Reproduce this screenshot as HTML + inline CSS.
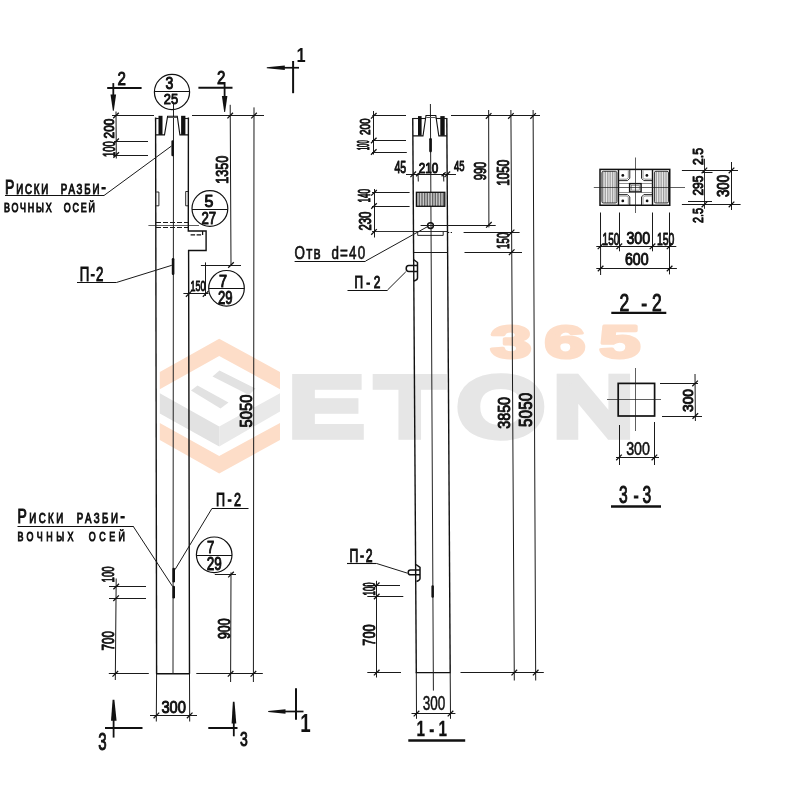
<!DOCTYPE html>
<html lang="ru"><head><meta charset="utf-8"><title>Колонна — чертёж</title>
<style>html,body{margin:0;padding:0;background:#fff;}body{width:800px;height:800px;overflow:hidden;}svg{display:block;font-family:"Liberation Sans", "DejaVu Sans", sans-serif;will-change:transform;}</style></head><body>
<svg width="800" height="800" viewBox="0 0 800 800">
<defs><pattern id="hatch" width="1.6" height="4" patternUnits="userSpaceOnUse"><rect width="1.6" height="4" fill="#d8d8d8"/><rect width="0.8" height="4" fill="#555"/></pattern><pattern id="hatch2" width="1.7" height="4" patternUnits="userSpaceOnUse"><rect width="1.7" height="4" fill="#ececec"/><rect width="0.6" height="4" fill="#777"/></pattern></defs>
<rect width="800" height="800" fill="#fff"/>
<polygon points="219.2,338.7 280,372 280,389.2 219.2,356 159.8,389.2 159.8,372" fill="#fdddc8"/>
<polygon points="159.8,423 219.2,456 280,423 280,440 219.2,473.4 159.8,440" fill="#fdddc8"/>
<polygon points="159.8,393.2 219.2,426.5 219.2,446.5 159.8,413.5" fill="#e2e2e2"/>
<polygon points="219.2,426.5 280,393.2 280,411.5 219.2,446.5" fill="#e9e9e9"/>
<polygon points="219.5,370.5 255.5,388.5 249,395 212.5,376.5" fill="#e2e2e2"/>
<polygon points="197.5,385.5 228.5,402.5 220.5,408.5 191,390.5" fill="#e2e2e2"/>
<text transform="translate(0 435.2) scale(1.33 1)" x="217.59 283.01 344.66 416.54" y="0" font-size="82" fill="#e6e6e6" stroke="#e6e6e6" stroke-width="11" vector-effect="non-scaling-stroke" stroke-linejoin="miter" stroke-miterlimit="1.5">ETON</text>
<text transform="translate(0 357.7) scale(1.62 1)" x="302.84 336.17 369.88" y="0" font-size="45.5" font-weight="bold" fill="#fdddc8" stroke="#fdddc8" stroke-width="3" stroke-linejoin="round">365</text>
<line x1="155.60" y1="117.50" x2="156.60" y2="673.80" stroke="#111" stroke-width="1.4" />
<polyline points="188.40,117.50 188.30,231.00 206.10,231.00 206.10,250.50 188.60,250.50 189.50,673.80" fill="none" stroke="#111" stroke-width="1.4" stroke-linejoin="miter" />
<line x1="156.00" y1="673.80" x2="190.00" y2="673.80" stroke="#111" stroke-width="1.4" />
<line x1="173.50" y1="103.00" x2="173.00" y2="674.00" stroke="#222" stroke-width="1.0" />
<line x1="155.60" y1="118.50" x2="158.80" y2="118.50" stroke="#1a1a1a" stroke-width="1.1" />
<line x1="185.00" y1="118.50" x2="188.60" y2="118.50" stroke="#1a1a1a" stroke-width="1.1" />
<polyline points="155.80,134.90 164.50,134.90 167.60,116.30 177.30,116.30 179.90,134.90 188.20,134.90" fill="none" stroke="#111" stroke-width="1.1" stroke-linejoin="miter" />
<line x1="168.00" y1="117.50" x2="177.00" y2="117.50" stroke="#555" stroke-width="1.0" />
<rect x="158.50" y="115.80" width="4.00" height="19.10" rx="0" fill="#111" stroke="none" stroke-width="0"/>
<rect x="181.10" y="115.80" width="4.30" height="19.10" rx="0" fill="#111" stroke="none" stroke-width="0"/>
<rect x="171.40" y="140.20" width="2.50" height="16.00" rx="1.2" fill="#111" stroke="none" stroke-width="0"/>
<rect x="171.80" y="258.10" width="2.60" height="16.90" rx="1.2" fill="#111" stroke="none" stroke-width="0"/>
<rect x="172.40" y="567.80" width="2.60" height="14.60" rx="1.2" fill="#111" stroke="none" stroke-width="0"/>
<rect x="172.40" y="585.80" width="2.60" height="12.70" rx="1.2" fill="#111" stroke="none" stroke-width="0"/>
<polyline points="156.20,192.00 158.90,192.00 158.90,205.80 156.20,205.80" fill="none" stroke="#111" stroke-width="0.9" stroke-linejoin="miter" />
<polyline points="188.30,191.50 185.70,191.50 185.70,205.80 188.30,205.80" fill="none" stroke="#111" stroke-width="0.9" stroke-linejoin="miter" />
<line x1="156.00" y1="222.50" x2="188.30" y2="222.50" stroke="#1a1a1a" stroke-width="1.0" stroke-dasharray="5 2"/>
<line x1="156.00" y1="227.50" x2="188.30" y2="227.50" stroke="#1a1a1a" stroke-width="1.0" stroke-dasharray="5 2"/>
<line x1="148.40" y1="225.50" x2="199.00" y2="225.50" stroke="#1a1a1a" stroke-width="0.7" />
<polyline points="190.60,234.90 202.60,234.90 202.60,231.00" fill="none" stroke="#111" stroke-width="1.25" stroke-linejoin="miter" stroke-dasharray="4.5 1.5"/>
<line x1="112.00" y1="115.50" x2="154.00" y2="115.50" stroke="#1a1a1a" stroke-width="1.0" />
<line x1="192.00" y1="115.50" x2="264.00" y2="115.50" stroke="#1a1a1a" stroke-width="1.0" />
<line x1="116.00" y1="111.50" x2="116.30" y2="158.50" stroke="#1a1a1a" stroke-width="1.0" />
<line x1="114.00" y1="141.50" x2="148.00" y2="141.50" stroke="#1a1a1a" stroke-width="1.0" />
<line x1="114.00" y1="155.50" x2="148.00" y2="155.50" stroke="#1a1a1a" stroke-width="1.0" />
<line x1="113.20" y1="118.30" x2="118.80" y2="112.70" stroke="#111" stroke-width="1.25" />
<line x1="113.30" y1="144.10" x2="118.90" y2="138.50" stroke="#111" stroke-width="1.25" />
<line x1="113.40" y1="157.80" x2="119.00" y2="152.20" stroke="#111" stroke-width="1.25" />
<text x="113.50" y="138.50" font-size="13.97" font-weight="normal" fill="#111" textLength="20.00" lengthAdjust="spacingAndGlyphs" transform="rotate(-90 113.50 138.50)"  stroke="#111" stroke-width="1.0" stroke-linejoin="round">200</text>
<text x="115.20" y="157.00" font-size="15.64" font-weight="normal" fill="#111" textLength="15.60" lengthAdjust="spacingAndGlyphs" transform="rotate(-90 115.20 157.00)"  stroke="#111" stroke-width="1.0" stroke-linejoin="round">100</text>
<line x1="230.20" y1="104.80" x2="231.00" y2="265.00" stroke="#1a1a1a" stroke-width="1.0" />
<line x1="254.00" y1="107.40" x2="253.40" y2="682.00" stroke="#1a1a1a" stroke-width="1.0" />
<line x1="227.40" y1="118.40" x2="233.00" y2="112.80" stroke="#111" stroke-width="1.25" />
<line x1="251.20" y1="118.40" x2="256.80" y2="112.80" stroke="#111" stroke-width="1.25" />
<line x1="200.90" y1="265.50" x2="241.00" y2="265.50" stroke="#1a1a1a" stroke-width="1.0" />
<line x1="228.20" y1="267.80" x2="233.80" y2="262.20" stroke="#111" stroke-width="1.25" />
<text x="228.00" y="183.80" font-size="17.04" font-weight="normal" fill="#111" textLength="28.00" lengthAdjust="spacingAndGlyphs" transform="rotate(-90 228.00 183.80)"  stroke="#111" stroke-width="1.0" stroke-linejoin="round">1350</text>
<line x1="205.50" y1="262.40" x2="205.50" y2="296.00" stroke="#1a1a1a" stroke-width="1.0" />
<line x1="183.40" y1="293.50" x2="208.50" y2="293.50" stroke="#1a1a1a" stroke-width="1.0" />
<line x1="185.90" y1="296.70" x2="191.50" y2="291.10" stroke="#111" stroke-width="1.25" />
<line x1="202.80" y1="296.70" x2="208.40" y2="291.10" stroke="#111" stroke-width="1.25" />
<text x="190.40" y="291.30" font-size="15.08" font-weight="normal" fill="#111" textLength="15.00" lengthAdjust="spacingAndGlyphs"  stroke="#111" stroke-width="1.0" stroke-linejoin="round">150</text>
<text x="252.00" y="427.60" font-size="17.32" font-weight="normal" fill="#111" textLength="33.00" lengthAdjust="spacingAndGlyphs" transform="rotate(-90 252.00 427.60)"  stroke="#111" stroke-width="1.0" stroke-linejoin="round">5050</text>
<line x1="231.00" y1="572.40" x2="230.60" y2="682.00" stroke="#1a1a1a" stroke-width="1.0" />
<line x1="214.80" y1="574.50" x2="236.00" y2="574.50" stroke="#1a1a1a" stroke-width="1.0" />
<line x1="228.20" y1="577.40" x2="233.80" y2="571.80" stroke="#111" stroke-width="1.25" />
<text x="229.80" y="639.00" font-size="17.32" font-weight="normal" fill="#111" textLength="20.60" lengthAdjust="spacingAndGlyphs" transform="rotate(-90 229.80 639.00)"  stroke="#111" stroke-width="1.0" stroke-linejoin="round">900</text>
<line x1="116.20" y1="578.50" x2="115.30" y2="680.00" stroke="#1a1a1a" stroke-width="1.0" />
<line x1="109.00" y1="586.50" x2="146.00" y2="586.50" stroke="#1a1a1a" stroke-width="1.0" />
<line x1="109.00" y1="598.50" x2="146.00" y2="598.50" stroke="#1a1a1a" stroke-width="1.0" />
<line x1="113.40" y1="589.30" x2="119.00" y2="583.70" stroke="#111" stroke-width="1.25" />
<line x1="113.30" y1="601.00" x2="118.90" y2="595.40" stroke="#111" stroke-width="1.25" />
<text x="113.80" y="582.40" font-size="16.76" font-weight="normal" fill="#111" textLength="16.00" lengthAdjust="spacingAndGlyphs" transform="rotate(-90 113.80 582.40)"  stroke="#111" stroke-width="1.0" stroke-linejoin="round">100</text>
<text x="114.40" y="650.40" font-size="17.04" font-weight="normal" fill="#111" textLength="19.40" lengthAdjust="spacingAndGlyphs" transform="rotate(-90 114.40 650.40)"  stroke="#111" stroke-width="1.0" stroke-linejoin="round">700</text>
<line x1="108.80" y1="673.50" x2="148.80" y2="673.50" stroke="#1a1a1a" stroke-width="1.0" />
<line x1="196.30" y1="673.50" x2="262.80" y2="673.50" stroke="#1a1a1a" stroke-width="1.0" />
<line x1="112.50" y1="676.60" x2="118.10" y2="671.00" stroke="#111" stroke-width="1.25" />
<line x1="227.80" y1="676.60" x2="233.40" y2="671.00" stroke="#111" stroke-width="1.25" />
<line x1="250.60" y1="676.60" x2="256.20" y2="671.00" stroke="#111" stroke-width="1.25" />
<line x1="156.60" y1="674.00" x2="156.30" y2="721.50" stroke="#1a1a1a" stroke-width="1.0" />
<line x1="189.50" y1="674.00" x2="189.70" y2="721.50" stroke="#1a1a1a" stroke-width="1.0" />
<line x1="150.00" y1="715.50" x2="197.00" y2="715.50" stroke="#1a1a1a" stroke-width="1.0" />
<line x1="153.60" y1="718.20" x2="159.20" y2="712.60" stroke="#111" stroke-width="1.25" />
<line x1="186.90" y1="718.20" x2="192.50" y2="712.60" stroke="#111" stroke-width="1.25" />
<text x="161.40" y="712.60" font-size="17.32" font-weight="normal" fill="#111" textLength="24.60" lengthAdjust="spacingAndGlyphs"  stroke="#111" stroke-width="1.0" stroke-linejoin="round">300</text>
<circle cx="172.00" cy="92.00" r="17.60" fill="none" stroke="#111" stroke-width="1.2"/>
<line x1="154.40" y1="91.50" x2="189.60" y2="91.50" stroke="#111" stroke-width="1.0" />
<text x="165.50" y="89.00" font-size="15.92" font-weight="normal" fill="#111" textLength="7.80" lengthAdjust="spacingAndGlyphs"  stroke="#111" stroke-width="1.0" stroke-linejoin="round">3</text>
<text x="163.80" y="104.40" font-size="15.08" font-weight="normal" fill="#111" textLength="14.30" lengthAdjust="spacingAndGlyphs"  stroke="#111" stroke-width="1.0" stroke-linejoin="round">25</text>
<circle cx="209.90" cy="208.50" r="17.90" fill="none" stroke="#111" stroke-width="1.2"/>
<line x1="192.00" y1="209.50" x2="227.80" y2="209.50" stroke="#111" stroke-width="1.0" />
<text x="204.50" y="207.00" font-size="16.48" font-weight="normal" fill="#111" textLength="8.90" lengthAdjust="spacingAndGlyphs"  stroke="#111" stroke-width="1.0" stroke-linejoin="round">5</text>
<text x="201.40" y="223.60" font-size="16.48" font-weight="normal" fill="#111" textLength="14.70" lengthAdjust="spacingAndGlyphs"  stroke="#111" stroke-width="1.0" stroke-linejoin="round">27</text>
<circle cx="226.50" cy="288.30" r="17.80" fill="none" stroke="#111" stroke-width="1.2"/>
<line x1="208.70" y1="288.50" x2="244.30" y2="288.50" stroke="#111" stroke-width="1.0" />
<text x="219.00" y="286.60" font-size="16.90" font-weight="normal" fill="#111" textLength="8.10" lengthAdjust="spacingAndGlyphs"  stroke="#111" stroke-width="1.0" stroke-linejoin="round">7</text>
<text x="218.00" y="303.60" font-size="17.88" font-weight="normal" fill="#111" textLength="14.60" lengthAdjust="spacingAndGlyphs"  stroke="#111" stroke-width="1.0" stroke-linejoin="round">29</text>
<circle cx="214.20" cy="554.80" r="17.80" fill="none" stroke="#111" stroke-width="1.2"/>
<line x1="196.40" y1="555.50" x2="232.00" y2="555.50" stroke="#111" stroke-width="1.0" />
<text x="207.00" y="552.60" font-size="17.04" font-weight="normal" fill="#111" textLength="7.30" lengthAdjust="spacingAndGlyphs"  stroke="#111" stroke-width="1.0" stroke-linejoin="round">7</text>
<text x="206.80" y="569.60" font-size="17.46" font-weight="normal" fill="#111" textLength="15.00" lengthAdjust="spacingAndGlyphs"  stroke="#111" stroke-width="1.0" stroke-linejoin="round">29</text>
<line x1="107.20" y1="88.10" x2="141.60" y2="88.10" stroke="#111" stroke-width="2.0" />
<line x1="113.30" y1="83.10" x2="113.30" y2="100.00" stroke="#111" stroke-width="1.8" />
<polygon points="110.5,94.4 116.1,94.4 113.8,110.8 112.9,110.8" fill="#111"/>
<text x="117.40" y="84.60" font-size="19.27" font-weight="normal" fill="#111" textLength="8.40" lengthAdjust="spacingAndGlyphs"  stroke="#111" stroke-width="1.0" stroke-linejoin="round">2</text>
<line x1="198.40" y1="87.80" x2="232.50" y2="87.80" stroke="#111" stroke-width="2.0" />
<line x1="224.60" y1="82.00" x2="224.60" y2="100.00" stroke="#111" stroke-width="1.8" />
<polygon points="221.9,96 227.4,96 225.1,112 224.2,112" fill="#111"/>
<text x="216.90" y="84.00" font-size="19.13" font-weight="normal" fill="#111" textLength="8.40" lengthAdjust="spacingAndGlyphs"  stroke="#111" stroke-width="1.0" stroke-linejoin="round">2</text>
<line x1="280.00" y1="67.75" x2="299.00" y2="67.75" stroke="#111" stroke-width="1.7" />
<line x1="293.10" y1="61.00" x2="293.10" y2="93.20" stroke="#111" stroke-width="2.0" />
<polygon points="266.8,67.3 266.8,68.3 284.8,70.0 284.8,65.6" fill="#111"/>
<text transform="translate(296.6 61.7) scale(0.8 1)" font-size="20.5" font-weight="bold" fill="#111">1</text>
<line x1="281.00" y1="711.50" x2="303.50" y2="711.50" stroke="#111" stroke-width="1.7" />
<line x1="296.00" y1="688.30" x2="296.00" y2="719.80" stroke="#111" stroke-width="2.0" />
<polygon points="268.2,711.0 268.2,712.0 285.5,713.7 285.5,709.3" fill="#111"/>
<text transform="translate(300.2 731.7) scale(0.75 1)" font-size="25" font-weight="bold" fill="#111">1</text>
<line x1="105.00" y1="728.10" x2="142.50" y2="728.10" stroke="#111" stroke-width="2.0" />
<line x1="113.60" y1="712.00" x2="113.60" y2="737.60" stroke="#111" stroke-width="1.8" />
<polygon points="112.6,699.8 114.4,699.8 116.6,720.8 111.0,720.8" fill="#111"/>
<text x="98.20" y="749.50" font-size="23.04" font-weight="normal" fill="#111" textLength="8.40" lengthAdjust="spacingAndGlyphs"  stroke="#111" stroke-width="1.0" stroke-linejoin="round">3</text>
<line x1="208.30" y1="728.00" x2="237.50" y2="728.00" stroke="#111" stroke-width="2.0" />
<line x1="233.80" y1="712.00" x2="233.80" y2="736.30" stroke="#111" stroke-width="1.8" />
<polygon points="232.9,701.8 234.5,701.8 236.3,723.5 231.6,723.5" fill="#111"/>
<text x="240.00" y="746.00" font-size="19.55" font-weight="normal" fill="#111" textLength="7.80" lengthAdjust="spacingAndGlyphs"  stroke="#111" stroke-width="1.0" stroke-linejoin="round">3</text>
<text transform="translate(5.00 193.60) scale(0.7 1)" font-size="20.00" fill="#111" stroke="#111" stroke-width="1.0" textLength="144.29" lengthAdjust="spacing" style="font-variant:small-caps" word-spacing="7">Риски разби-</text>
<line x1="5.00" y1="195.50" x2="104.00" y2="195.50" stroke="#111" stroke-width="1.1" />
<line x1="104.00" y1="195.50" x2="171.50" y2="146.00" stroke="#1a1a1a" stroke-width="1.0" />
<text transform="translate(4.00 211.80) scale(0.7 1)" font-size="18.50" fill="#111" stroke="#111" stroke-width="1.0" textLength="130.00" lengthAdjust="spacing" style="font-variant:small-caps" word-spacing="7">вочных осей</text>
<text transform="translate(79.80 280.60) scale(0.68 1)" font-size="19.50" fill="#111" stroke="#111" stroke-width="1.0" textLength="34.71" lengthAdjust="spacing" >П-2</text>
<line x1="77.00" y1="282.50" x2="116.40" y2="282.50" stroke="#111" stroke-width="1.1" />
<line x1="116.40" y1="282.50" x2="171.80" y2="265.30" stroke="#1a1a1a" stroke-width="1.0" />
<text transform="translate(17.50 523.40) scale(0.7 1)" font-size="20.00" fill="#111" stroke="#111" stroke-width="1.0" textLength="153.57" lengthAdjust="spacing" style="font-variant:small-caps" word-spacing="7">Риски разби-</text>
<line x1="17.50" y1="526.50" x2="133.00" y2="526.50" stroke="#111" stroke-width="1.1" />
<line x1="133.00" y1="526.00" x2="172.60" y2="586.50" stroke="#1a1a1a" stroke-width="1.0" />
<text transform="translate(17.50 541.00) scale(0.7 1)" font-size="18.50" fill="#111" stroke="#111" stroke-width="1.0" textLength="153.57" lengthAdjust="spacing" style="font-variant:small-caps" word-spacing="7">вочных осей</text>
<text transform="translate(216.00 506.00) scale(0.68 1)" font-size="18.50" fill="#111" stroke="#111" stroke-width="1.0" textLength="36.76" lengthAdjust="spacing" >П-2</text>
<line x1="211.80" y1="508.50" x2="248.50" y2="508.50" stroke="#111" stroke-width="1.1" />
<line x1="211.80" y1="508.70" x2="175.00" y2="569.60" stroke="#1a1a1a" stroke-width="1.0" />
<line x1="412.75" y1="118.00" x2="416.30" y2="672.60" stroke="#111" stroke-width="1.4" />
<line x1="446.80" y1="118.00" x2="450.20" y2="672.60" stroke="#111" stroke-width="1.4" />
<line x1="415.60" y1="672.60" x2="450.80" y2="672.60" stroke="#111" stroke-width="1.4" />
<line x1="430.40" y1="104.00" x2="433.40" y2="690.60" stroke="#222" stroke-width="1.0" />
<line x1="412.75" y1="118.50" x2="426.00" y2="118.50" stroke="#1a1a1a" stroke-width="1.1" />
<line x1="435.80" y1="118.50" x2="447.00" y2="118.50" stroke="#1a1a1a" stroke-width="1.1" />
<line x1="426.40" y1="117.50" x2="435.60" y2="117.50" stroke="#555" stroke-width="1.0" />
<polyline points="413.00,135.90 423.00,135.90 426.00,115.50 435.80,115.50 438.80,135.90 446.80,135.90" fill="none" stroke="#111" stroke-width="1.1" stroke-linejoin="miter" />
<rect x="418.00" y="116.10" width="3.60" height="19.60" rx="0" fill="#111" stroke="none" stroke-width="0"/>
<rect x="440.30" y="116.10" width="4.40" height="19.60" rx="0" fill="#111" stroke="none" stroke-width="0"/>
<rect x="429.20" y="138.00" width="2.70" height="14.40" rx="1.3" fill="#111" stroke="none" stroke-width="0"/>
<line x1="406.00" y1="174.50" x2="456.00" y2="174.50" stroke="#1a1a1a" stroke-width="1.0" />
<line x1="418.00" y1="173.00" x2="418.30" y2="181.50" stroke="#1a1a1a" stroke-width="1.0" />
<line x1="443.50" y1="173.00" x2="443.80" y2="181.50" stroke="#1a1a1a" stroke-width="1.0" />
<line x1="410.40" y1="177.10" x2="416.00" y2="171.50" stroke="#111" stroke-width="1.25" />
<line x1="416.10" y1="176.30" x2="420.10" y2="172.30" stroke="#111" stroke-width="1.25" />
<line x1="441.60" y1="176.30" x2="445.60" y2="172.30" stroke="#111" stroke-width="1.25" />
<line x1="444.50" y1="177.10" x2="450.10" y2="171.50" stroke="#111" stroke-width="1.25" />
<text x="394.40" y="173.00" font-size="16.20" font-weight="normal" fill="#111" textLength="11.80" lengthAdjust="spacingAndGlyphs"  stroke="#111" stroke-width="1.0" stroke-linejoin="round">45</text>
<text x="418.80" y="172.50" font-size="14.39" font-weight="normal" fill="#111" textLength="19.50" lengthAdjust="spacingAndGlyphs"  stroke="#111" stroke-width="1.0" stroke-linejoin="round">210</text>
<text x="454.00" y="171.40" font-size="14.53" font-weight="normal" fill="#111" textLength="10.50" lengthAdjust="spacingAndGlyphs"  stroke="#111" stroke-width="1.0" stroke-linejoin="round">45</text>
<rect x="416.40" y="192.30" width="28.40" height="14.00" rx="0" fill="url(#hatch)" stroke="#111" stroke-width="1.3"/>
<circle cx="430.50" cy="225.60" r="2.90" fill="none" stroke="#111" stroke-width="1.5"/>
<line x1="420.60" y1="225.50" x2="495.70" y2="225.50" stroke="#1a1a1a" stroke-width="1.0" />
<line x1="372.00" y1="231.50" x2="447.20" y2="231.50" stroke="#1a1a1a" stroke-width="0.9" />
<polyline points="417.70,232.00 417.70,235.40 443.20,235.40 443.20,232.00" fill="none" stroke="#111" stroke-width="0.9" stroke-linejoin="miter" />
<line x1="447.20" y1="232.50" x2="452.00" y2="232.50" stroke="#1a1a1a" stroke-width="1.0" stroke-dasharray="2 1.5"/>
<line x1="413.60" y1="252.50" x2="447.70" y2="252.50" stroke="#1a1a1a" stroke-width="1.0" />
<path d="M413.5,259.5 L417.5,262.5 L417.5,278 Q417.5,280 414,281 M417.5,265.5 L408.8,265.5 Q406.2,265.5 406.2,268.5 Q406.2,271.5 408.8,271.5 L417.5,271.5" fill="none" stroke="#111" stroke-width="1.5" stroke-linejoin="round"/>
<path d="M416,564.5 L420,567.3 L420,578.5 Q420,580.3 416.5,581.5 M420,570 L410.6,570 Q408.2,570 408.2,572.4 Q408.2,574.8 410.6,574.8 L420,574.8" fill="none" stroke="#111" stroke-width="1.5" stroke-linejoin="round"/>
<rect x="431.40" y="585.20" width="2.50" height="12.50" rx="1.2" fill="#111" stroke="none" stroke-width="0"/>
<line x1="372.30" y1="115.50" x2="406.00" y2="115.50" stroke="#1a1a1a" stroke-width="1.0" />
<line x1="373.50" y1="111.00" x2="373.50" y2="154.50" stroke="#1a1a1a" stroke-width="1.0" />
<line x1="372.00" y1="140.50" x2="406.00" y2="140.50" stroke="#1a1a1a" stroke-width="1.0" />
<line x1="372.00" y1="152.50" x2="406.80" y2="152.50" stroke="#1a1a1a" stroke-width="1.0" />
<line x1="370.95" y1="118.60" x2="376.55" y2="113.00" stroke="#111" stroke-width="1.25" />
<line x1="370.95" y1="143.30" x2="376.55" y2="137.70" stroke="#111" stroke-width="1.25" />
<line x1="370.95" y1="154.80" x2="376.55" y2="149.20" stroke="#111" stroke-width="1.25" />
<text x="370.20" y="135.00" font-size="15.08" font-weight="normal" fill="#111" textLength="16.70" lengthAdjust="spacingAndGlyphs" transform="rotate(-90 370.20 135.00)"  stroke="#111" stroke-width="1.0" stroke-linejoin="round">200</text>
<text x="369.30" y="150.20" font-size="16.06" font-weight="normal" fill="#111" textLength="9.90" lengthAdjust="spacingAndGlyphs" transform="rotate(-90 369.30 150.20)"  stroke="#111" stroke-width="1.0" stroke-linejoin="round">100</text>
<line x1="374.50" y1="189.00" x2="374.50" y2="237.50" stroke="#1a1a1a" stroke-width="1.0" />
<line x1="372.00" y1="192.50" x2="409.60" y2="192.50" stroke="#1a1a1a" stroke-width="1.0" />
<line x1="372.00" y1="206.50" x2="409.60" y2="206.50" stroke="#1a1a1a" stroke-width="1.0" />
<line x1="371.20" y1="195.60" x2="376.80" y2="190.00" stroke="#111" stroke-width="1.25" />
<line x1="371.20" y1="208.80" x2="376.80" y2="203.20" stroke="#111" stroke-width="1.25" />
<line x1="371.20" y1="234.70" x2="376.80" y2="229.10" stroke="#111" stroke-width="1.25" />
<text x="370.40" y="202.60" font-size="17.04" font-weight="normal" fill="#111" textLength="13.60" lengthAdjust="spacingAndGlyphs" transform="rotate(-90 370.40 202.60)"  stroke="#111" stroke-width="1.0" stroke-linejoin="round">140</text>
<text x="371.00" y="230.60" font-size="16.76" font-weight="normal" fill="#111" textLength="19.00" lengthAdjust="spacingAndGlyphs" transform="rotate(-90 371.00 230.60)"  stroke="#111" stroke-width="1.0" stroke-linejoin="round">230</text>
<line x1="451.00" y1="115.50" x2="540.00" y2="115.50" stroke="#1a1a1a" stroke-width="1.0" />
<line x1="488.65" y1="110.00" x2="488.90" y2="227.40" stroke="#1a1a1a" stroke-width="1.0" />
<line x1="510.90" y1="110.00" x2="514.30" y2="680.50" stroke="#1a1a1a" stroke-width="1.0" />
<line x1="533.10" y1="110.00" x2="535.70" y2="680.50" stroke="#1a1a1a" stroke-width="1.0" />
<line x1="485.85" y1="118.70" x2="491.45" y2="113.10" stroke="#111" stroke-width="1.25" />
<line x1="508.10" y1="118.70" x2="513.70" y2="113.10" stroke="#111" stroke-width="1.25" />
<line x1="530.30" y1="118.70" x2="535.90" y2="113.10" stroke="#111" stroke-width="1.25" />
<line x1="486.10" y1="227.60" x2="491.70" y2="222.00" stroke="#111" stroke-width="1.25" />
<text x="486.40" y="180.30" font-size="17.04" font-weight="normal" fill="#111" textLength="18.60" lengthAdjust="spacingAndGlyphs" transform="rotate(-90 486.40 180.30)"  stroke="#111" stroke-width="1.0" stroke-linejoin="round">990</text>
<text x="508.60" y="185.80" font-size="16.48" font-weight="normal" fill="#111" textLength="26.20" lengthAdjust="spacingAndGlyphs" transform="rotate(-90 508.60 185.80)"  stroke="#111" stroke-width="1.0" stroke-linejoin="round">1050</text>
<line x1="463.60" y1="232.50" x2="519.60" y2="232.50" stroke="#1a1a1a" stroke-width="1.0" />
<line x1="464.50" y1="252.50" x2="522.00" y2="252.50" stroke="#1a1a1a" stroke-width="1.0" />
<line x1="508.80" y1="235.20" x2="514.40" y2="229.60" stroke="#111" stroke-width="1.25" />
<line x1="508.90" y1="255.00" x2="514.50" y2="249.40" stroke="#111" stroke-width="1.25" />
<text x="508.60" y="249.00" font-size="16.48" font-weight="normal" fill="#111" textLength="16.40" lengthAdjust="spacingAndGlyphs" transform="rotate(-90 508.60 249.00)"  stroke="#111" stroke-width="1.0" stroke-linejoin="round">150</text>
<text x="510.40" y="428.80" font-size="17.32" font-weight="normal" fill="#111" textLength="31.90" lengthAdjust="spacingAndGlyphs" transform="rotate(-90 510.40 428.80)"  stroke="#111" stroke-width="1.0" stroke-linejoin="round">3850</text>
<text x="531.80" y="426.90" font-size="17.88" font-weight="normal" fill="#111" textLength="34.10" lengthAdjust="spacingAndGlyphs" transform="rotate(-90 531.80 426.90)"  stroke="#111" stroke-width="1.0" stroke-linejoin="round">5050</text>
<line x1="376.50" y1="580.80" x2="376.50" y2="677.50" stroke="#1a1a1a" stroke-width="1.0" />
<line x1="367.30" y1="585.50" x2="400.00" y2="585.50" stroke="#1a1a1a" stroke-width="1.0" />
<line x1="367.30" y1="596.50" x2="403.30" y2="596.50" stroke="#1a1a1a" stroke-width="1.0" />
<line x1="373.90" y1="588.10" x2="379.50" y2="582.50" stroke="#111" stroke-width="1.25" />
<line x1="373.90" y1="599.30" x2="379.50" y2="593.70" stroke="#111" stroke-width="1.25" />
<line x1="373.90" y1="675.40" x2="379.50" y2="669.80" stroke="#111" stroke-width="1.25" />
<text x="375.00" y="595.40" font-size="16.48" font-weight="normal" fill="#111" textLength="13.00" lengthAdjust="spacingAndGlyphs" transform="rotate(-90 375.00 595.40)"  stroke="#111" stroke-width="1.0" stroke-linejoin="round">100</text>
<text x="375.00" y="645.70" font-size="17.32" font-weight="normal" fill="#111" textLength="21.40" lengthAdjust="spacingAndGlyphs" transform="rotate(-90 375.00 645.70)"  stroke="#111" stroke-width="1.0" stroke-linejoin="round">700</text>
<line x1="367.30" y1="672.50" x2="401.00" y2="672.50" stroke="#1a1a1a" stroke-width="1.0" />
<line x1="460.50" y1="672.50" x2="543.80" y2="672.50" stroke="#1a1a1a" stroke-width="1.0" />
<line x1="511.50" y1="675.40" x2="517.10" y2="669.80" stroke="#111" stroke-width="1.25" />
<line x1="532.90" y1="675.40" x2="538.50" y2="669.80" stroke="#111" stroke-width="1.25" />
<line x1="416.30" y1="673.00" x2="416.50" y2="718.80" stroke="#1a1a1a" stroke-width="1.0" />
<line x1="450.20" y1="673.00" x2="450.50" y2="718.80" stroke="#1a1a1a" stroke-width="1.0" />
<line x1="411.50" y1="713.50" x2="455.40" y2="713.50" stroke="#1a1a1a" stroke-width="1.0" />
<line x1="413.70" y1="716.40" x2="419.30" y2="710.80" stroke="#111" stroke-width="1.25" />
<line x1="447.70" y1="716.40" x2="453.30" y2="710.80" stroke="#111" stroke-width="1.25" />
<text x="422.80" y="710.20" font-size="20.95" font-weight="normal" fill="#111" textLength="22.60" lengthAdjust="spacingAndGlyphs"  stroke="#111" stroke-width="0.5" stroke-linejoin="round">300</text>
<text x="416.50" y="735.60" font-size="22.91" font-weight="bold" fill="#111" textLength="30.50" lengthAdjust="spacingAndGlyphs"  stroke="#111" stroke-width="0.3" stroke-linejoin="round">1 - 1</text>
<line x1="408.30" y1="740.50" x2="465.20" y2="740.50" stroke="#111" stroke-width="2.6" />
<text transform="translate(294.60 258.90) scale(0.72 1)" font-size="18.60" fill="#111" stroke="#111" stroke-width="0.7" textLength="97.92" lengthAdjust="spacing" word-spacing="7">Отв d=40</text>
<line x1="294.60" y1="261.50" x2="365.50" y2="261.50" stroke="#111" stroke-width="1.1" />
<line x1="365.50" y1="261.10" x2="427.60" y2="226.60" stroke="#1a1a1a" stroke-width="1.0" />
<text transform="translate(354.40 288.00) scale(0.72 1)" font-size="16.50" fill="#111" stroke="#111" stroke-width="1.0" textLength="36.11" lengthAdjust="spacing" >П-2</text>
<line x1="347.50" y1="290.50" x2="387.50" y2="290.50" stroke="#111" stroke-width="1.1" />
<line x1="387.50" y1="290.00" x2="405.80" y2="271.80" stroke="#1a1a1a" stroke-width="1.0" />
<text transform="translate(349.40 561.60) scale(0.68 1)" font-size="18.00" fill="#111" stroke="#111" stroke-width="1.0" textLength="34.12" lengthAdjust="spacing" >П-2</text>
<line x1="347.00" y1="563.50" x2="376.30" y2="563.50" stroke="#111" stroke-width="1.1" />
<line x1="376.30" y1="563.40" x2="407.50" y2="573.20" stroke="#1a1a1a" stroke-width="1.0" />
<rect x="600.00" y="169.40" width="69.75" height="35.85" rx="0" fill="#fff" stroke="#111" stroke-width="1.5"/>
<rect x="601.90" y="171.30" width="15.00" height="31.70" rx="1.5" fill="url(#hatch2)" stroke="#222" stroke-width="0.9"/>
<rect x="654.40" y="171.30" width="14.10" height="31.70" rx="1.5" fill="url(#hatch2)" stroke="#222" stroke-width="0.9"/>
<line x1="618.50" y1="169.40" x2="618.50" y2="205.20" stroke="#111" stroke-width="1.4" />
<line x1="652.50" y1="169.40" x2="652.50" y2="205.20" stroke="#111" stroke-width="1.4" />
<polyline points="619.00,180.60 627.50,180.60 629.80,178.20 629.80,170.00" fill="none" stroke="#111" stroke-width="0.9" stroke-linejoin="miter" />
<polyline points="652.00,180.60 643.80,180.60 641.50,178.20 641.50,170.00" fill="none" stroke="#111" stroke-width="0.9" stroke-linejoin="miter" />
<polyline points="619.00,194.60 627.50,194.60 629.80,197.00 629.80,205.00" fill="none" stroke="#111" stroke-width="0.9" stroke-linejoin="miter" />
<polyline points="652.00,194.60 643.80,194.60 641.50,197.00 641.50,205.00" fill="none" stroke="#111" stroke-width="0.9" stroke-linejoin="miter" />
<polyline points="619.40,179.20 626.80,179.20 628.30,177.60 628.30,170.40" fill="none" stroke="#444" stroke-width="0.6" stroke-linejoin="miter" />
<polyline points="651.80,179.20 644.60,179.20 643.00,177.60 643.00,170.40" fill="none" stroke="#444" stroke-width="0.6" stroke-linejoin="miter" />
<polyline points="619.40,196.00 626.80,196.00 628.30,197.60 628.30,204.60" fill="none" stroke="#444" stroke-width="0.6" stroke-linejoin="miter" />
<polyline points="651.80,196.00 644.60,196.00 643.00,197.60 643.00,204.60" fill="none" stroke="#444" stroke-width="0.6" stroke-linejoin="miter" />
<circle cx="622.80" cy="175.40" r="1.40" fill="#111" stroke="#111" stroke-width="0"/>
<circle cx="646.90" cy="175.40" r="1.40" fill="#111" stroke="#111" stroke-width="0"/>
<circle cx="622.80" cy="200.90" r="1.40" fill="#111" stroke="#111" stroke-width="0"/>
<circle cx="647.10" cy="200.90" r="1.40" fill="#111" stroke="#111" stroke-width="0"/>
<line x1="618.50" y1="183.50" x2="629.40" y2="183.50" stroke="#444" stroke-width="0.6" />
<line x1="641.30" y1="183.50" x2="652.50" y2="183.50" stroke="#444" stroke-width="0.6" />
<line x1="618.50" y1="192.50" x2="629.40" y2="192.50" stroke="#444" stroke-width="0.6" />
<line x1="641.30" y1="192.50" x2="652.50" y2="192.50" stroke="#444" stroke-width="0.6" />
<rect x="629.60" y="183.60" width="11.50" height="8.30" rx="0" fill="#f4f4f4" stroke="#111" stroke-width="1.4"/>
<rect x="631.60" y="185.40" width="7.60" height="4.70" rx="0" fill="none" stroke="#555" stroke-width="0.5"/>
<line x1="635.50" y1="157.50" x2="635.50" y2="213.00" stroke="#1a1a1a" stroke-width="0.7" />
<line x1="593.80" y1="187.50" x2="685.00" y2="187.50" stroke="#1a1a1a" stroke-width="0.7" />
<line x1="600.50" y1="212.50" x2="600.60" y2="275.00" stroke="#1a1a1a" stroke-width="1.0" />
<line x1="619.50" y1="212.50" x2="619.50" y2="251.30" stroke="#1a1a1a" stroke-width="1.0" />
<line x1="652.50" y1="212.50" x2="652.50" y2="251.30" stroke="#1a1a1a" stroke-width="1.0" />
<line x1="669.50" y1="212.50" x2="669.50" y2="274.40" stroke="#1a1a1a" stroke-width="1.0" />
<line x1="596.30" y1="246.50" x2="676.30" y2="246.50" stroke="#1a1a1a" stroke-width="1.0" />
<line x1="596.30" y1="268.50" x2="676.90" y2="268.50" stroke="#1a1a1a" stroke-width="1.0" />
<line x1="597.70" y1="249.10" x2="603.30" y2="243.50" stroke="#111" stroke-width="1.25" />
<line x1="616.50" y1="249.10" x2="622.10" y2="243.50" stroke="#111" stroke-width="1.25" />
<line x1="649.70" y1="249.10" x2="655.30" y2="243.50" stroke="#111" stroke-width="1.25" />
<line x1="666.80" y1="249.10" x2="672.40" y2="243.50" stroke="#111" stroke-width="1.25" />
<line x1="597.80" y1="271.30" x2="603.40" y2="265.70" stroke="#111" stroke-width="1.25" />
<line x1="666.80" y1="271.30" x2="672.40" y2="265.70" stroke="#111" stroke-width="1.25" />
<text x="602.60" y="244.80" font-size="17.04" font-weight="normal" fill="#111" textLength="16.60" lengthAdjust="spacingAndGlyphs"  stroke="#111" stroke-width="1.0" stroke-linejoin="round">150</text>
<text x="626.40" y="244.40" font-size="16.48" font-weight="normal" fill="#111" textLength="23.80" lengthAdjust="spacingAndGlyphs"  stroke="#111" stroke-width="1.0" stroke-linejoin="round">300</text>
<text x="657.00" y="244.80" font-size="17.04" font-weight="normal" fill="#111" textLength="17.40" lengthAdjust="spacingAndGlyphs"  stroke="#111" stroke-width="1.0" stroke-linejoin="round">150</text>
<text x="625.00" y="265.00" font-size="16.48" font-weight="normal" fill="#111" textLength="23.60" lengthAdjust="spacingAndGlyphs"  stroke="#111" stroke-width="1.0" stroke-linejoin="round">600</text>
<text transform="translate(0 311.00) scale(0.76 1)" x="815.00 831.58 843.68 852.63 857.89" y="0" font-size="23.00" font-weight="normal" fill="#111" stroke="#111" stroke-width="1.0">2 - 2</text>
<line x1="611.30" y1="312.90" x2="666.30" y2="312.90" stroke="#111" stroke-width="2.3" />
<line x1="681.90" y1="170.50" x2="738.00" y2="170.50" stroke="#1a1a1a" stroke-width="1.0" />
<line x1="681.90" y1="204.50" x2="740.60" y2="204.50" stroke="#1a1a1a" stroke-width="1.0" />
<line x1="703.00" y1="172.50" x2="712.50" y2="172.50" stroke="#1a1a1a" stroke-width="1.0" />
<line x1="688.00" y1="201.50" x2="712.00" y2="201.50" stroke="#1a1a1a" stroke-width="1.0" />
<line x1="704.50" y1="158.80" x2="704.50" y2="208.80" stroke="#1a1a1a" stroke-width="0.9" />
<line x1="731.50" y1="162.00" x2="731.50" y2="210.00" stroke="#1a1a1a" stroke-width="1.0" />
<line x1="701.60" y1="173.20" x2="707.20" y2="167.60" stroke="#111" stroke-width="1.25" />
<line x1="701.60" y1="207.20" x2="707.20" y2="201.60" stroke="#111" stroke-width="1.25" />
<line x1="728.70" y1="173.20" x2="734.30" y2="167.60" stroke="#111" stroke-width="1.25" />
<line x1="728.70" y1="207.20" x2="734.30" y2="201.60" stroke="#111" stroke-width="1.25" />
<text x="703.00" y="165.00" font-size="15.36" font-weight="normal" fill="#111" textLength="17.00" lengthAdjust="spacingAndGlyphs" transform="rotate(-90 703.00 165.00)"  stroke="#111" stroke-width="1.0" stroke-linejoin="round">2.5</text>
<text x="703.00" y="195.60" font-size="15.36" font-weight="normal" fill="#111" textLength="20.00" lengthAdjust="spacingAndGlyphs" transform="rotate(-90 703.00 195.60)"  stroke="#111" stroke-width="1.0" stroke-linejoin="round">295</text>
<text x="703.00" y="223.00" font-size="15.36" font-weight="normal" fill="#111" textLength="15.00" lengthAdjust="spacingAndGlyphs" transform="rotate(-90 703.00 223.00)"  stroke="#111" stroke-width="1.0" stroke-linejoin="round">2.5</text>
<text x="729.40" y="197.00" font-size="15.92" font-weight="normal" fill="#111" textLength="22.00" lengthAdjust="spacingAndGlyphs" transform="rotate(-90 729.40 197.00)"  stroke="#111" stroke-width="1.0" stroke-linejoin="round">300</text>
<rect x="618.20" y="383.40" width="36.40" height="32.60" rx="0" fill="none" stroke="#111" stroke-width="1.7"/>
<line x1="635.50" y1="368.00" x2="635.50" y2="431.00" stroke="#1a1a1a" stroke-width="0.7" />
<line x1="607.00" y1="399.50" x2="661.00" y2="399.50" stroke="#1a1a1a" stroke-width="0.7" />
<line x1="660.00" y1="383.50" x2="698.00" y2="383.50" stroke="#1a1a1a" stroke-width="1.0" />
<line x1="662.00" y1="416.50" x2="702.00" y2="416.50" stroke="#1a1a1a" stroke-width="1.0" />
<line x1="695.00" y1="374.00" x2="695.40" y2="421.00" stroke="#1a1a1a" stroke-width="1.0" />
<line x1="692.30" y1="386.20" x2="697.90" y2="380.60" stroke="#111" stroke-width="1.25" />
<line x1="692.50" y1="418.80" x2="698.10" y2="413.20" stroke="#111" stroke-width="1.25" />
<text x="693.30" y="412.00" font-size="15.08" font-weight="normal" fill="#111" textLength="23.00" lengthAdjust="spacingAndGlyphs" transform="rotate(-90 693.30 412.00)"  stroke="#111" stroke-width="1.0" stroke-linejoin="round">300</text>
<line x1="619.50" y1="425.00" x2="619.50" y2="465.00" stroke="#1a1a1a" stroke-width="1.0" />
<line x1="654.50" y1="422.00" x2="654.50" y2="465.00" stroke="#1a1a1a" stroke-width="1.0" />
<line x1="616.00" y1="457.50" x2="659.00" y2="457.50" stroke="#1a1a1a" stroke-width="1.0" />
<line x1="616.20" y1="460.20" x2="621.80" y2="454.60" stroke="#111" stroke-width="1.25" />
<line x1="651.60" y1="460.20" x2="657.20" y2="454.60" stroke="#111" stroke-width="1.25" />
<text x="626.20" y="455.00" font-size="19.27" font-weight="normal" fill="#111" textLength="23.80" lengthAdjust="spacingAndGlyphs"  stroke="#111" stroke-width="0.6" stroke-linejoin="round">300</text>
<text transform="translate(0 503.40) scale(0.68 1)" x="910.29 925.00 931.76 941.18 945.00" y="0" font-size="23.00" font-weight="normal" fill="#111" stroke="#111" stroke-width="1.0">3 - 3</text>
<line x1="611.00" y1="506.50" x2="661.00" y2="506.50" stroke="#111" stroke-width="2.3" />
</svg></body></html>
